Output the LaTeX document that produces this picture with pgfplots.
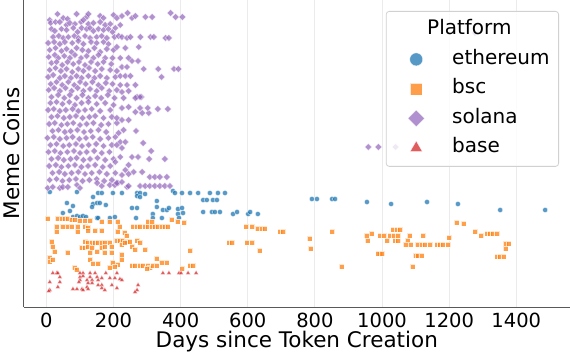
\documentclass[border=0pt]{standalone}
\usepackage{pgfplots}
\pgfplotsset{compat=1.18}
\usepackage{fontspec}
\setmainfont{DejaVu Sans}
\definecolor{tabblue}{HTML}{1F77B4}
\definecolor{taborange}{HTML}{FF7F0E}
\definecolor{tabpurple}{HTML}{9467BD}
\definecolor{tabred}{HTML}{D62728}
\begin{document}
\begin{tikzpicture}
\begin{axis}[
 at={(0,0)}, anchor=south west,
 scale only axis, width=546.4pt, height=307pt,
 xmin=-68, xmax=1560, ymin=-307, ymax=0,
 axis x line*=bottom, axis y line*=left,
 axis line style={-, draw=black!65, line width=0.9pt},
 xtick={0,200,...,1400}, ytick=\empty, major tick length=0pt,
 xmajorgrids, grid style={draw=black!8, line width=0.9pt},
 /pgf/number format/assume math mode=true,
 /pgf/number format/1000 sep={},
 xticklabel style={font=\fontsize{19.5}{20}\selectfont, anchor=base, yshift=-21pt},
 xlabel={Days since Token Creation},
 xlabel style={font=\fontsize{21.5}{24}\selectfont, at={(axis description cs:0.5,0)}, anchor=base, yshift=-41pt},
 ylabel={Meme Coins},
 ylabel style={font=\fontsize{21.5}{24}\selectfont, at={(axis description cs:-0.0066,0.5)}, anchor=base},
 legend cell align=left,
 legend style={at={(1,1)}, anchor=north east, xshift=-11pt, yshift=-11pt,
   draw=black!18, line width=0.8pt, rounded corners=3pt, fill=white, fill opacity=0.8, text opacity=1,
   font=\fontsize{20}{24}\selectfont, inner xsep=9pt, inner ysep=9pt, row sep=10.5pt, column sep=23pt,
   nodes={inner sep=0pt, text height=14.5pt, text depth=4.5pt}},
 legend image code/.code={\path[draw=none,fill=none] (0pt,-1pt) rectangle (34pt,1pt);
   \draw[sharp corners,#1,only marks] plot coordinates {(21pt,0pt)};},
]
\addlegendimage{empty legend}
\addlegendentry{\hspace*{-25pt}Platform}

% ethereum
\addplot[only marks, mark=*, mark size=2.6pt,
  mark options={fill=tabblue, draw=white, line width=0.4pt, opacity=0.75, sharp corners},
  legend image post style={mark size=6.5pt}] coordinates {
(10,-192)(91,-192)(154,-193)(165,-193)(198,-193)(225,-193)(270,-193)(279,-193)(294,-194)(377,-191)(383,-193)(404,-193)(428,-193)(452,-193)(487,-193)(511,-193)(532,-193)
(139,-197)(270,-196)(279,-197)
(467,-200)(478,-200)(496,-200)(508,-200)(791,-199)(806,-199)(851,-199)(860,-199)
(329,-201)(61,-203)(79,-206)(139,-204)(151,-203)(159,-203)(136,-207)(177,-205)(255,-208)(270,-208)(329,-207)(955,-202)(1027,-204)(1134,-202)(1226,-204)
(347,-210)(359,-210)(365,-208)(392,-209)(404,-208)(407,-213)(467,-212)(493,-212)(502,-212)(517,-212)(1352,-210)(1486,-210)
(49,-213)(70,-211)(79,-217)(91,-216)(100,-217)(109,-216)(118,-217)(151,-218)(154,-218)(189,-218)(204,-217)(267,-218)(317,-214)(317,-218)(344,-218)(392,-214)(395,-218)(556,-214)(568,-212)(601,-214)(607,-212)(630,-214)
};
\addlegendentry{ethereum}

% bsc
\addplot[only marks, mark=square*, mark size=2.5pt,
  mark options={fill=taborange, draw=white, line width=0.4pt, opacity=0.75, sharp corners},
  legend image post style={mark size=6pt}] coordinates {
(4,-219)(34,-219)(46,-219)(55,-219)(64,-219)(76,-220)(85,-220)(100,-221)(115,-221)(130,-221)(165,-222)(189,-222)(213,-222)(303,-222)(315,-222)(374,-220)(392,-222)(410,-223)
(31,-227)(49,-227)(64,-227)(76,-227)(94,-227)(115,-227)(124,-228)(219,-227)(258,-227)(270,-227)(279,-227)(294,-227)(303,-227)(315,-227)(323,-227)(332,-227)(344,-227)(353,-227)(362,-227)
(595,-227)(613,-227)(630,-229)(642,-229)(651,-229)
(31,-232)(94,-232)(124,-231)(145,-231)(165,-231)(213,-232)(234,-233)(240,-236)(696,-232)(705,-232)(851,-232)
(16,-242)(19,-247)(115,-242)(124,-243)(136,-243)(145,-243)(154,-243)(165,-243)(174,-243)(189,-243)(210,-241)(219,-241)(228,-241)(240,-242)(249,-242)(270,-241)(279,-243)
(544,-243)(553,-243)(598,-243)(613,-243)(785,-239)(955,-236)(970,-234)(958,-241)
(106,-248)(115,-248)(124,-247)(136,-248)(165,-248)(174,-247)(195,-247)(225,-245)(234,-243)(255,-247)(264,-250)(788,-249)(634,-251)
(25,-252)(64,-253)(130,-253)(151,-252)(174,-253)(195,-253)(225,-255)(294,-250)(428,-251)
(10,-258)(10,-262)(19,-260)(130,-260)(198,-263)(225,-260)(329,-259)(344,-263)(359,-263)
(139,-264)(154,-264)(213,-265)(255,-266)(264,-266)(279,-266)(288,-266)(303,-266)(309,-268)(318,-266)(329,-266)(428,-266)(437,-266)
(85,-268)(91,-270)(189,-268)(204,-267)(300,-269)(404,-269)(880,-267)
(1223,-223)(1244,-224)(1277,-232)(1295,-236)(1313,-234)(1322,-234)(1331,-234)(1343,-234)(1367,-244)(1376,-244)(1367,-249)(1343,-257)(1352,-257)(1361,-257)
(1033,-230)(1045,-230)(1054,-230)(994,-236)(1006,-236)(1024,-236)(1036,-236)(1015,-241)(1039,-241)(1048,-241)(1048,-236)(1081,-236)(1075,-241)
(1069,-245)(1084,-245)(1107,-245)(1119,-245)(1128,-245)(1143,-245)(1164,-245)(1173,-245)(1182,-245)(1197,-245)(1122,-236)(1200,-238)
(1099,-256)(1107,-256)(1119,-256)(1090,-267)(994,-254)(988,-254)(1000,-254)
};
\addlegendentry{bsc}

% solana
\addplot[only marks, mark=square*, mark size=2.45pt,
  mark options={rotate=45, fill=tabpurple, draw=white, line width=0.4pt, opacity=0.72, sharp corners},
  legend image post style={mark size=5.8pt}] coordinates {
(10,-20)(33,-14)(50,-18)(63,-19)(90,-14)(120,-17)(125,-14)(160,-16)(170,-18)(200,-15)(210,-18)
(13,-23)(27,-22)(40,-22)(60,-25)(70,-23)(85,-24)(103,-22)(110,-20)(125,-24)(140,-23)(160,-22)(175,-25)(190,-24)(205,-28)
(15,-29)(25,-31)(45,-29)(60,-30)(80,-28)(93,-32)(105,-28)(120,-29)(130,-28)(140,-31)(155,-29)(170,-30)(185,-29)(197,-32)
(20,-37)(37,-36)(50,-38)(65,-37)(83,-36)(95,-38)(115,-36)(130,-38)(150,-37)(165,-36)(180,-38)(203,-37)
(5,-43)(23,-42)(40,-44)(55,-42)(77,-43)(95,-41)(110,-44)(133,-42)(150,-43)(170,-42)(185,-44)
(10,-50)(27,-48)(45,-51)(60,-49)(75,-52)(90,-48)(107,-50)(125,-51)(143,-48)(160,-52)(180,-49)(200,-50)
(7,-57)(25,-55)(35,-58)(53,-56)(70,-58)(85,-55)(103,-58)(120,-56)(140,-58)(155,-55)(175,-58)(197,-58)
(15,-63)(30,-62)(47,-65)(63,-62)(80,-64)(97,-62)(115,-65)(133,-62)(153,-64)(170,-62)(193,-64)
(10,-70)(27,-68)(43,-71)(60,-69)(77,-72)(95,-69)(110,-71)(127,-68)(145,-71)(165,-69)(190,-70)(210,-71)
(5,-77)(20,-75)(40,-78)(55,-76)(73,-78)(90,-76)(105,-78)(125,-76)(143,-78)(160,-76)(180,-78)(205,-77)
(13,-84)(30,-82)(47,-85)(65,-82)(83,-85)(100,-82)(117,-84)(137,-82)(155,-85)(177,-83)(197,-84)
(7,-90)(23,-88)(40,-91)(57,-88)(75,-91)(93,-88)(110,-91)(130,-89)(150,-91)(165,-88)(187,-91)(210,-90)
(15,-97)(35,-95)(53,-98)(70,-95)(90,-98)(107,-95)(125,-98)(145,-96)(163,-98)(183,-95)(203,-98)
(12,-103)(30,-102)(48,-104)(68,-102)(85,-105)(105,-103)(125,-102)(150,-104)(175,-103)(200,-105)
(5,-110)(22,-109)(40,-111)(58,-110)(78,-109)(95,-111)(115,-110)(135,-109)(160,-111)(190,-110)
(15,-117)(33,-116)(52,-118)(70,-117)(88,-116)(108,-118)(128,-117)(145,-116)(170,-118)(195,-117)
(8,-124)(25,-123)(45,-125)(62,-124)(80,-123)(100,-125)(120,-124)(140,-123)(163,-125)(185,-124)(210,-123)
(18,-131)(36,-130)(55,-132)(72,-131)(92,-130)(112,-132)(132,-131)(155,-130)(178,-132)
(3,-138)(22,-137)(40,-139)(60,-138)(78,-137)(98,-139)(118,-138)(138,-137)(160,-139)(185,-138)(205,-137)
(12,-145)(30,-144)(50,-146)(68,-145)(88,-144)(106,-146)(126,-145)(148,-144)(170,-146)(195,-145)
(6,-152)(25,-151)(42,-153)(62,-152)(82,-151)(100,-153)(120,-152)(142,-151)(165,-153)(188,-152)
(15,-159)(35,-158)(52,-160)(72,-159)(90,-158)(110,-160)(130,-159)(152,-158)(175,-160)(200,-159)
(8,-166)(28,-165)(45,-167)(65,-166)(85,-165)(104,-167)(124,-166)(145,-165)(168,-167)(190,-166)
(18,-173)(38,-172)(55,-174)(75,-173)(95,-172)(115,-174)(135,-173)(158,-172)(180,-174)(205,-173)
(10,-180)(30,-179)(48,-181)(68,-180)(88,-179)(108,-181)(128,-180)(150,-179)(172,-181)(195,-180)
(4,-188)(19,-187)(40,-188)(49,-187)(64,-187)(91,-185)(100,-188)(151,-183)(165,-186)(189,-185)(204,-185)(213,-183)(240,-187)(279,-186)(294,-186)(308,-186)(323,-186)(338,-186)(353,-186)(368,-186)
(225,-16)(242,-13)(255,-18)(265,-16)(295,-17)(315,-17)(370,-13)(385,-17)(405,-17)(220,-25)(215,-36)(225,-37)(240,-38)(250,-37)(280,-37)(310,-37)(320,-37)(355,-38)(365,-38)
(210,-47)(235,-48)(275,-47)(220,-58)(245,-58)(255,-61)(273,-61)(225,-67)(240,-67)(290,-69)(333,-69)(380,-69)(393,-69)(343,-77)(220,-76)(235,-76)(250,-76)(220,-85)(240,-85)(265,-85)(225,-92)(245,-91)(270,-97)(283,-97)
(230,-98)(265,-98)(279,-97)(225,-108)(245,-107)(265,-112)(285,-113)(305,-113)(279,-108)(302,-108)(332,-109)(362,-109)(210,-118)(225,-120)(245,-120)(215,-133)(230,-130)(267,-131)(220,-142)(235,-142)(288,-143)
(210,-145)(225,-148)(312,-151)(220,-157)(255,-157)(273,-157)(306,-159)(353,-159)(205,-162)(245,-165)(235,-170)(260,-172)(285,-172)(225,-175)(245,-174)(308,-177)(323,-177)(338,-177)(359,-177)(210,-183)(225,-182)(245,-186)
(959,-147)(989,-147)(1040,-147)(1277,-33)
};
\addlegendentry{solana}

% base
\addplot[only marks, mark=triangle*, mark size=2.6pt,
  mark options={fill=tabred, draw=white, line width=0.3pt, opacity=0.75, sharp corners},
  legend image post style={mark size=6.8pt}] coordinates {
(19,-273)(31,-273)(34,-273)(100,-273)(109,-273)(130,-273)(145,-273)(177,-273)(210,-273)(347,-273)(365,-273)(395,-273)(401,-273)(422,-273)(446,-273)
(40,-277)(100,-277)(109,-276)(130,-277)(151,-277)(165,-278)(189,-278)(204,-278)(219,-279)(225,-280)(121,-280)(136,-280)(154,-280)(100,-280)
(10,-282)(40,-282)(97,-282)(124,-283)(136,-283)(154,-285)(165,-285)(195,-285)(273,-285)(121,-287)
(10,-290)(34,-287)(79,-289)(91,-289)(106,-289)(109,-290)(124,-289)(165,-288)(174,-290)(210,-288)(270,-290)(264,-292)(7,-291)
};
\addlegendentry{base}
\end{axis}
\pgfresetboundingbox
\path[use as bounding box] (-23.6pt,-46pt) rectangle (546.4pt,307pt);
\end{tikzpicture}
\end{document}
